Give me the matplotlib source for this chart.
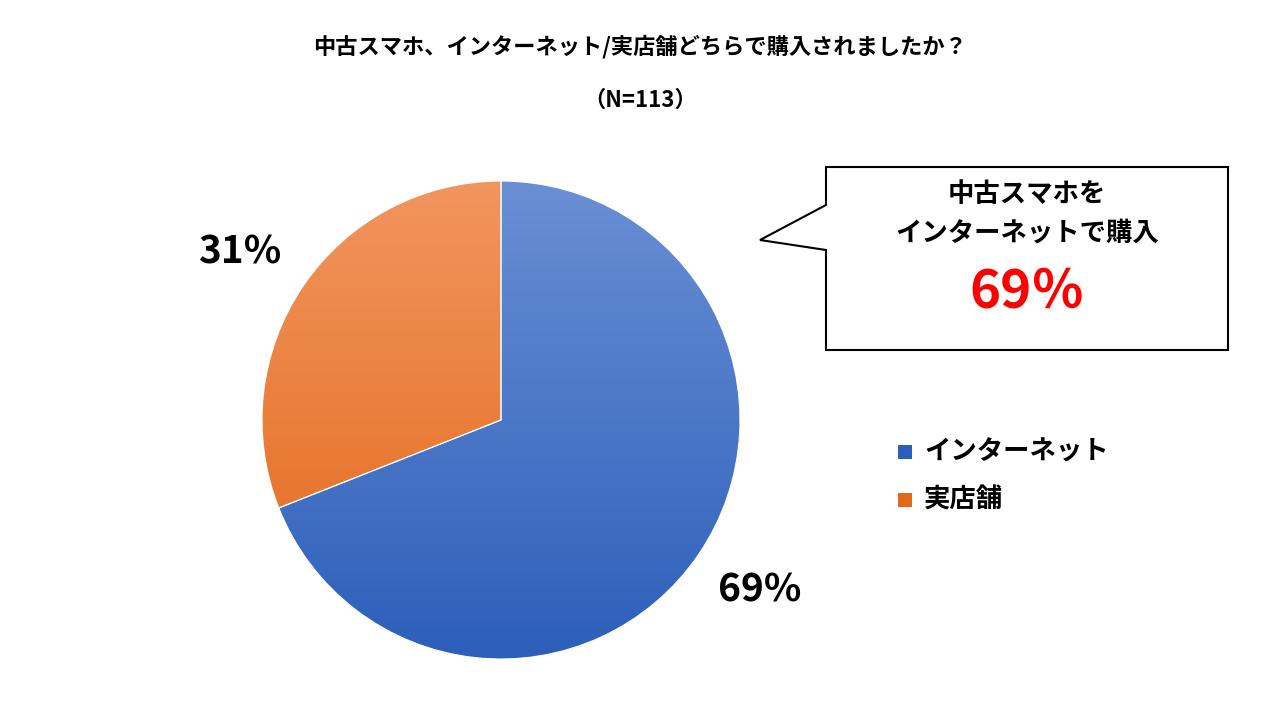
import numpy as np
import matplotlib.pyplot as plt
from matplotlib.colors import LinearSegmentedColormap
from matplotlib.patches import Polygon, Rectangle

plt.rcParams['font.family'] = ['Noto Sans CJK JP', 'DejaVu Sans']

labels = ["インターネット", "実店舗"]
values = [69, 31]
pct_labels = ["69%", "31%"]
title = "中古スマホ、インターネット/実店舗どちらで購入されましたか？"
subtitle = "（N=113）"

fig = plt.figure(figsize=(12.8, 7.2), dpi=100)

# overlay axes in pixel coordinates
ov = fig.add_axes([0, 0, 1, 1])
ov.set_xlim(0, 1280)
ov.set_ylim(720, 0)
ov.axis("off")

# pie axes
pax = fig.add_axes([262 / 1280, 61 / 720, 478 / 1280, 478 / 720])
wedges, _ = pax.pie(values, startangle=90, counterclock=False,
                    colors=["none", "none"])
pax.set_xlim(-1, 1)
pax.set_ylim(-1, 1)

grads = [("#6a8fd4", "#2c5fba"), ("#f2955e", "#e2681a")]
grad = np.linspace(0, 1, 256).reshape(-1, 1)
for w, (top, bot) in zip(wedges, grads):
    cmap = LinearSegmentedColormap.from_list("g", [top, bot])
    im = pax.imshow(grad, cmap=cmap, extent=(-1, 1, -1, 1), aspect="auto",
                    origin="upper", zorder=0)
    im.set_clip_path(w)
    w.set_edgecolor("white")
    w.set_linewidth(0.8)
pax.set_xlim(-1, 1)
pax.set_ylim(-1, 1)
pax.axis("off")

# titles
ov.text(640, 47, title, ha="center", va="center", fontsize=16, fontweight="bold")
ov.text(640, 100, subtitle, ha="center", va="center", fontsize=16, fontweight="bold")

# data labels
ov.text(760, 590, pct_labels[0], ha="center", va="center", fontsize=28, fontweight="bold")
ov.text(240, 252, pct_labels[1], ha="center", va="center", fontsize=28, fontweight="bold")

# callout
callout = [(826, 167), (1228, 167), (1228, 350), (826, 350), (826, 250),
           (760, 240), (826, 205)]
ov.add_patch(Polygon(callout, closed=True, facecolor="white", edgecolor="black", lw=1.5))
ov.text(1027, 195, "中古スマホを", ha="center", va="center", fontsize=19, fontweight="bold")
ov.text(1027, 233, "インターネットで購入", ha="center", va="center", fontsize=19, fontweight="bold")
ov.text(1027, 292, "69％", ha="center", va="center", fontsize=38, fontweight="bold", color="#ff0000")

# legend
for i, (lab, (top, bot)) in enumerate(zip(labels, grads)):
    y = 452 + i * 48
    ov.add_patch(Rectangle((898, y - 7), 14, 14, facecolor=bot, edgecolor="none"))
    ov.text(924, y, lab, ha="left", va="center", fontsize=19, fontweight="bold")

fig.savefig("out.png", dpi=100)
